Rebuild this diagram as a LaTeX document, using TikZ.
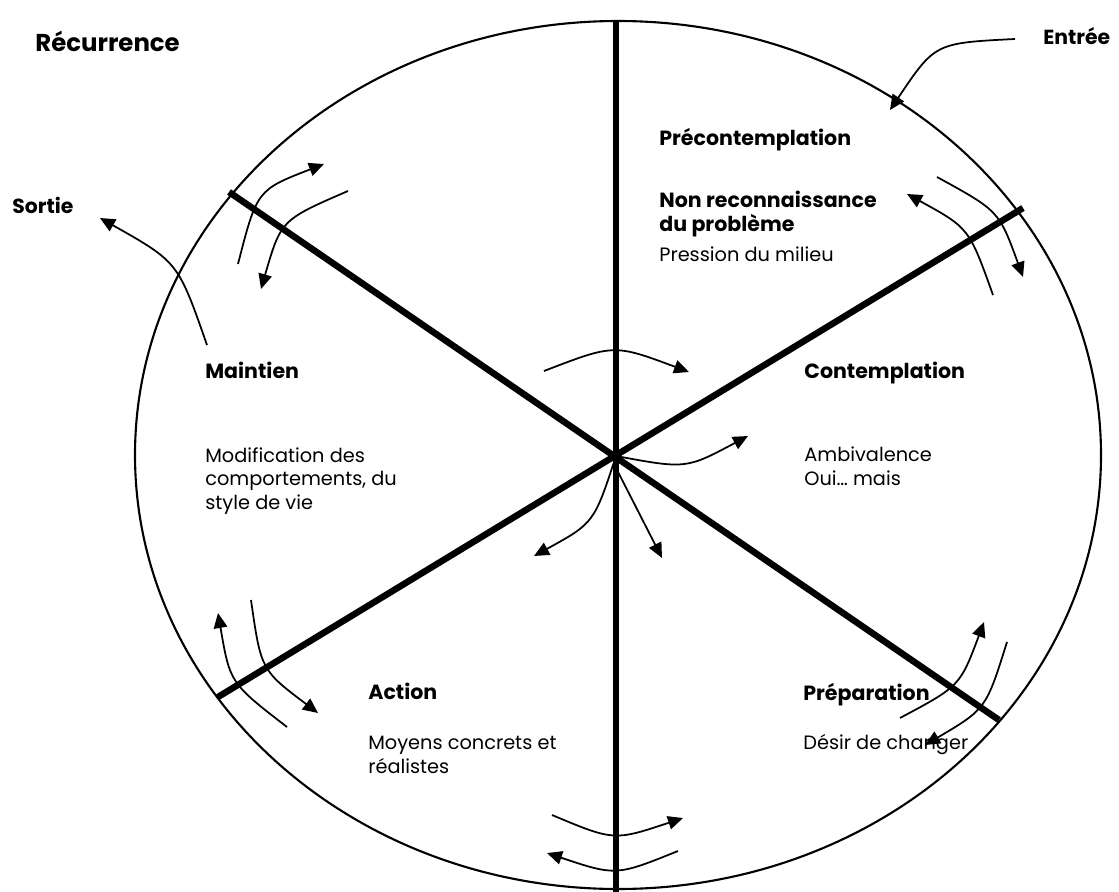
\documentclass[tikz,border=0pt]{standalone}
\usepackage{fontspec}
\setmainfont{Poppins}
\usetikzlibrary{arrows.meta}
\tikzset{
  spoke/.style={line width=3.7pt},
  cyc/.style={-{Triangle[length=0.3cm,width=0.27cm]}, line width=1pt},
  stg/.style={anchor=base west, inner sep=0pt, align=left, font=\fontsize{11.7}{13.3}\selectfont\bfseries},
  stx/.style={anchor=base west, inner sep=0pt, align=left, font=\fontsize{11}{13.3}\selectfont},
  side/.style={anchor=base west, inner sep=0pt, font=\fontsize{11.6}{14}\selectfont\bfseries},
}

\begin{document}
\begin{tikzpicture}[x=0.02cm,y=-0.02cm]
\useasboundingbox (0,0) rectangle (1119,892);
% wheel and spokes
\draw[line width=1.2pt] (618,455) ellipse [x radius=483, y radius=434];
\coordinate (c) at (616,456);
\coordinate (n) at (616,21);
\coordinate (s) at (616,892);
\coordinate (nw) at (229,192);
\coordinate (se) at (999,720);
\coordinate (ne) at (1023,208);
\coordinate (sw) at (218,697);
\draw[spoke] (n)--(s);
\draw[spoke] (nw)--(se);
\draw[spoke] (ne)--(sw);

% outside labels
\node[side,font=\fontsize{13.9}{16}\selectfont\bfseries] (recur) at (35,52) {Récurrence};
\node[side] (entree) at (1043,45) {Entrée};
\node[side] (sortie) at (12,213) {Sortie};

% stages (base = last line)
\node[stg] (prec) at (659,146) {Précontemplation};
\node[stg] (precd) at (659,231) {Non reconnaissance\\du problème};
\node[stx] (prect) at (659,261) {Pression du milieu};
\node[stg] (cont) at (804,378) {Contemplation};
\node[stx] (contt) at (804,485) {Ambivalence\\Oui… mais};
\node[stg] (prep) at (803,700) {Préparation};
\node[stx] (prept) at (803,749) {Désir de changer};
\node[stg] (act) at (368,699) {Action};
\node[stx] (actt) at (368,773) {Moyens concrets et\\réalistes};
\node[stg] (maint) at (205,378) {Maintien};
\node[stx] (maintt) at (205,509) {Modification des\\comportements, du\\style de vie};

% entry and exit
\draw[cyc] (1015,39) .. controls (935,43) .. (890,110);
\draw[cyc] (207,345) .. controls (178,262) .. (100,218);

% arrows at the spokes
\draw[cyc] (238,264) .. controls (257,190) .. (324,164);
\draw[cyc] (348,191) .. controls (281,220) .. (261,289);
\draw[cyc] (993,295) .. controls (969,228) .. (907,194);
\draw[cyc] (937,177) .. controls (999,211) .. (1023,277);
\draw[cyc] (287,727) .. controls (230,683) .. (218,613);
\draw[cyc] (251,600) .. controls (261,670) .. (318,713);
\draw[cyc] (900,718) .. controls (960,686) .. (984,622);
\draw[cyc] (1007,642) .. controls (986,709) .. (925,745);
\draw[cyc] (552,815) .. controls (614,841) .. (683,818);
\draw[cyc] (678,851) .. controls (616,876) .. (547,853);

% arrows from the centre
\draw[cyc] (544,371) .. controls (614,344) .. (689,372);
\draw[cyc] (c) .. controls (686,469) .. (748,436);
\draw[cyc] (c) .. controls (594,523) .. (534,556);
\draw[cyc] ([yshift=-0.24cm]c) -- (662,558);
\end{tikzpicture}
\end{document}
